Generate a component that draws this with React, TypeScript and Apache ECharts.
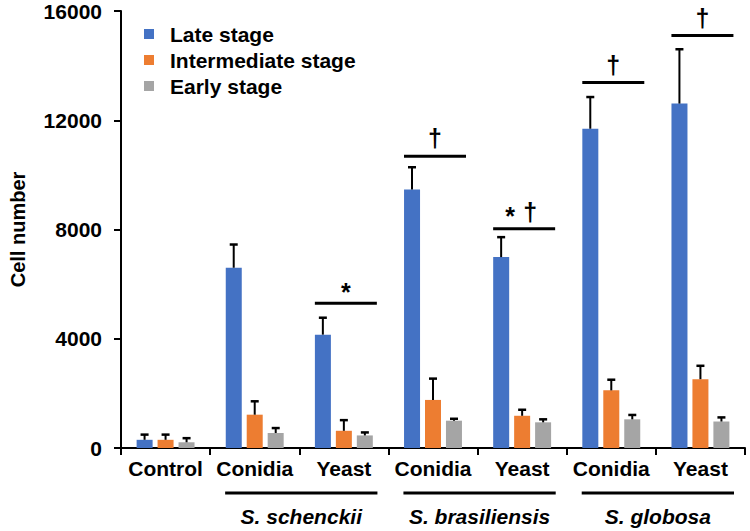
import React, { useEffect, useRef } from "react";
import * as echarts from "echarts";

const categories = ["Control", "Conidia", "Yeast", "Conidia", "Yeast", "Conidia", "Yeast"];
const seriesNames = ["Late stage", "Intermediate stage", "Early stage"];
const lateValues = [300, 6600, 4150, 9460, 6990, 11690, 12610];
const lateErrors = [190, 850, 620, 820, 730, 1160, 1990];
const intermediateValues = [300, 1220, 630, 1760, 1180, 2110, 2520];
const intermediateErrors = [190, 490, 390, 780, 220, 390, 490];
const earlyValues = [210, 550, 460, 1000, 940, 1050, 970];
const earlyErrors = [150, 180, 110, 70, 110, 160, 150];
const yTicks = [0, 4000, 8000, 12000, 16000];

const sigCategories = [2, 3, 4, 5, 6];
const sigLevels = [5300, 10680, 8030, 13380, 15100];
const sigMarks = ["*", "†", "*†", "†", "†"];

const groupStart = [1, 3, 5];
const groupEnd = [2, 4, 6];
const groupNames = ["S. schenckii", "S. brasiliensis", "S. globosa"];

const colors = ["#4472C4", "#ED7D31", "#A5A5A5"];
const FONT = "'Liberation Sans', Arial, sans-serif";

export default function App() {
  const ref = useRef<HTMLDivElement>(null);
  useEffect(() => {
    if (!ref.current) return;
    const chart = echarts.init(ref.current, null, { renderer: "svg" });
    const values = [lateValues, intermediateValues, earlyValues];
    const errors = [lateErrors, intermediateErrors, earlyErrors];
    const offsets = [-21, 0, 21];

    const barSeries = seriesNames.map((name, s) => ({
      name,
      type: "bar",
      data: values[s],
      barWidth: 16,
      barGap: "31%",
      itemStyle: { color: colors[s] },
      z: 2,
    }));

    const errSeries = seriesNames.map((name, s) => ({
      type: "custom",
      name: name + " error",
      data: values[s].map((v, i) => [i, v, errors[s][i]]),
      z: 3,
      clip: false,
      renderItem: (params: any, api: any) => {
        const x = api.value(0);
        const v = api.value(1);
        const e = api.value(2);
        const base = api.coord([x, v]);
        const top = api.coord([x, v + e]);
        const cx = base[0] + offsets[s];
        return {
          type: "group",
          children: [
            { type: "line", shape: { x1: cx, y1: base[1], x2: cx, y2: top[1] }, style: { stroke: "#000", lineWidth: 2 } },
            { type: "line", shape: { x1: cx - 4, y1: top[1], x2: cx + 4, y2: top[1] }, style: { stroke: "#000", lineWidth: 2.5 } },
          ],
        };
      },
    }));

    const sigSeries = {
      type: "custom",
      name: "sig",
      data: sigCategories.map((c, i) => [c, sigLevels[i]]),
      z: 4,
      clip: false,
      renderItem: (params: any, api: any) => {
        const p = api.coord([api.value(0), api.value(1)]);
        const cx = p[0] + 2;
        const mark = sigMarks[params.dataIndex];
        const children: any[] = [
          { type: "line", shape: { x1: cx - 31, y1: p[1], x2: cx + 31, y2: p[1] }, style: { stroke: "#000", lineWidth: 3 } },
        ];
        const ts = { fontSize: 25, fontWeight: "bold", fontFamily: FONT, fill: "#000", align: "center", verticalAlign: "middle" };
        if (mark === "*†") {
          children.push({ type: "text", style: { ...ts, text: "*", x: cx - 14, y: p[1] - 13 } });
          children.push({ type: "text", style: { ...ts, text: "†", x: cx + 6, y: p[1] - 17 } });
        } else if (mark === "*") {
          children.push({ type: "text", style: { ...ts, text: "*", x: cx, y: p[1] - 11 } });
        } else {
          children.push({ type: "text", style: { ...ts, text: "†", x: cx, y: p[1] - 18 } });
        }
        return { type: "group", children };
      },
    };

    const groupSeries = {
      type: "custom",
      name: "groups",
      data: groupStart.map((s, i) => [s, groupEnd[i]]),
      z: 4,
      clip: false,
      renderItem: (params: any, api: any) => {
        const p1 = api.coord([api.value(0), 0]);
        const p2 = api.coord([api.value(1), 0]);
        const half = api.size([1, 0])[0] / 2;
        const x1 = p1[0] - half + 15;
        const x2 = p2[0] + half - 11;
        const y = p1[1] + 45;
        return {
          type: "group",
          children: [
            { type: "line", shape: { x1, y1: y, x2, y2: y }, style: { stroke: "#000", lineWidth: 3 } },
            {
              type: "text",
              style: {
                text: groupNames[params.dataIndex],
                x: (x1 + x2) / 2,
                y: y + 23,
                align: "center",
                verticalAlign: "middle",
                fontSize: 21,
                fontWeight: "bold",
                fontStyle: "italic",
                fontFamily: FONT,
                fill: "#000",
              },
            },
          ],
        };
      },
    };

    chart.setOption({
      animation: false,
      grid: { left: 107, right: 5, top: 11, bottom: 83, containLabel: false },
      legend: {
        data: seriesNames,
        orient: "vertical",
        left: 139,
        top: 18,
        itemWidth: 10,
        itemHeight: 10,
        itemGap: 4,
        icon: "rect",
        textStyle: { fontSize: 21, fontWeight: "bold", color: "#000", fontFamily: FONT, lineHeight: 22, padding: [0, 0, 0, 11] },
      },
      xAxis: {
        type: "category",
        data: categories,
        axisLine: { lineStyle: { color: "#000", width: 2 } },
        axisTick: { show: true, length: 7, lineStyle: { color: "#000", width: 2 } },
        axisLabel: { fontSize: 21, fontWeight: "bold", color: "#000", fontFamily: FONT, margin: 10, interval: 0 },
      },
      yAxis: {
        type: "value",
        min: yTicks[0],
        max: yTicks[yTicks.length - 1],
        interval: yTicks[1] - yTicks[0],
        name: "Cell number",
        nameLocation: "middle",
        nameGap: 93,
        nameTextStyle: { fontSize: 20, fontWeight: "bold", color: "#000", fontFamily: FONT },
        axisLine: { show: true, lineStyle: { color: "#000", width: 2 } },
        axisTick: { show: true, length: 7, lineStyle: { color: "#000", width: 2 } },
        splitLine: { show: false },
        axisLabel: {
          fontSize: 21,
          fontWeight: "bold",
          color: "#000",
          fontFamily: FONT,
          margin: 19,
          formatter: (v: number) => String(v),
        },
      },
      series: [...barSeries, ...errSeries, sigSeries, groupSeries],
    });
    return () => chart.dispose();
  }, []);
  return <div ref={ref} style={{ position: "fixed", left: 0, top: 0, width: 750, height: 531, background: "#fff" }} />;
}
